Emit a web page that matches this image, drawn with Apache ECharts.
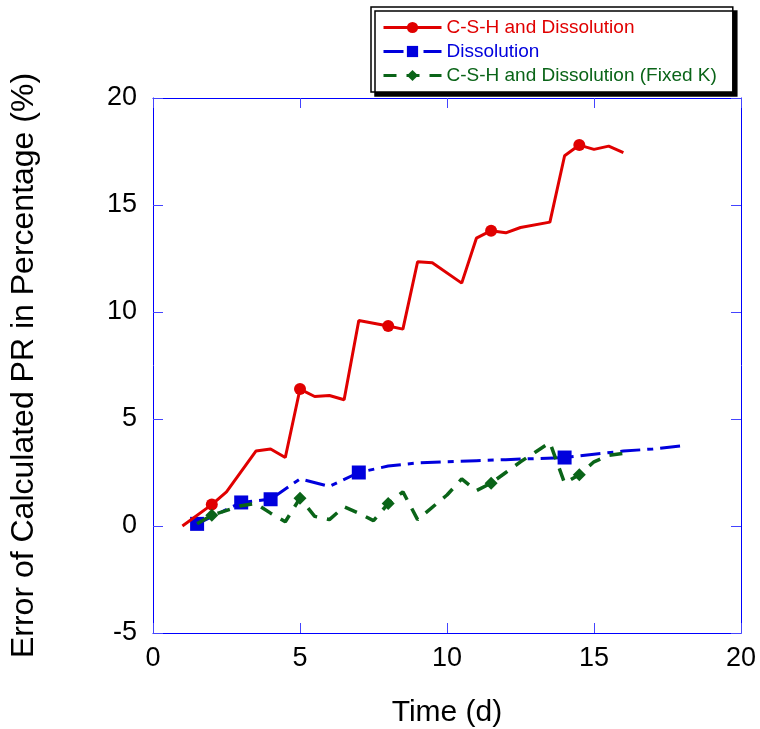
<!DOCTYPE html>
<html><head><meta charset="utf-8">
<script src="https://cdn.jsdelivr.net/npm/echarts@6/dist/echarts.min.js"></script>
<style>html,body{margin:0;padding:0;background:#fff}#c{width:760px;height:729px}</style>
</head><body><div id="c"></div>
<script>
const xTicks = [0, 5, 10, 15, 20];
const yTicks = [-5, 0, 5, 10, 15, 20];
const seriesNames = ['C-S-H and Dissolution', 'Dissolution', 'C-S-H and Dissolution (Fixed K)'];
const redX = [1, 2, 2.5, 3.5, 4, 4.5, 5, 5.5, 6, 6.5, 7, 8, 8.5, 9, 9.5, 10.5, 11, 11.5, 12, 12.5, 13.5, 14, 14.5, 15, 15.5, 16];
const redY = [0, 1.0, 1.6, 3.5, 3.6, 3.2, 6.4, 6.05, 6.1, 5.9, 9.6, 9.35, 9.2, 12.35, 12.3, 11.35, 13.45, 13.8, 13.7, 13.95, 14.2, 17.3, 17.8, 17.6, 17.75, 17.45];
const redMarks = [2, 5, 8, 11.5, 14.5];
const blueX = [1.5, 3, 4, 5, 6, 7, 8, 9, 10, 11, 12, 13, 14, 15, 16, 17, 18];
const blueY = [0.1, 1.1, 1.25, 2.2, 1.85, 2.5, 2.8, 2.95, 3.0, 3.05, 3.1, 3.15, 3.2, 3.35, 3.5, 3.6, 3.75];
const blueMarks = [1.5, 3, 4, 7, 14];
const greenX = [1.5, 2, 3, 3.5, 4, 4.5, 5, 5.5, 6, 6.5, 7, 7.5, 8, 8.5, 9, 10, 10.5, 11, 11.5, 12, 12.5, 13, 13.5, 14, 14.5, 15, 15.5, 16];
const greenY = [0.1, 0.5, 0.95, 1.05, 0.6, 0.2, 1.3, 0.45, 0.3, 0.9, 0.6, 0.25, 1.05, 1.6, 0.3, 1.45, 2.2, 1.65, 2.0, 2.5, 3.0, 3.45, 3.9, 2.0, 2.4, 3.0, 3.3, 3.4];
const greenMarks = [2, 5, 8, 11.5, 14.5];

function build(xs, ys, marks) {
  return xs.map((x, i) => marks.includes(x) ? [x, ys[i]] : {value: [x, ys[i]], symbol: 'none'});
}
const FONT = 'Liberation Sans, Arial, sans-serif';
const red = '#e00000', blue = '#0000dd', green = '#0a6418';
const chart = echarts.init(document.getElementById('c'), null, {renderer: 'canvas'});
function axisCommon() {
  return {
    axisLine: {show: true, onZero: false, lineStyle: {color: '#0000ff', width: 1}},
    axisTick: {show: true, inside: true, length: 10, lineStyle: {color: '#4444ff'}},
    splitLine: {show: false}
  };
}
chart.setOption({
  animation: false,
  grid: {left: 153, right: 19, top: 98, bottom: 96, containLabel: false, outerBoundsMode: 'none'},
  legend: {
    left: 371, top: 7, orient: 'vertical', itemWidth: 58, itemHeight: 14, itemGap: 5,
    padding: [11, 16, 7, 11],
    backgroundColor: '#fff', borderColor: '#000', borderWidth: 1.5, borderRadius: 0,
    shadowColor: '#000', shadowBlur: 0, shadowOffsetX: 4, shadowOffsetY: 4,
    lineStyle: {width: 3},
    textStyle: {fontFamily: FONT, fontSize: 19},
    data: [
      {name: seriesNames[0], textStyle: {color: red}},
      {name: seriesNames[1], textStyle: {color: blue}},
      {name: seriesNames[2], textStyle: {color: green}}
    ]
  },
  xAxis: [
    Object.assign({type: 'value', min: xTicks[0], max: xTicks[xTicks.length - 1], interval: 5,
      name: 'Time (d)', nameLocation: 'middle', nameGap: 65,
      nameTextStyle: {fontFamily: FONT, fontSize: 30, color: '#000'},
      axisLabel: {fontFamily: FONT, fontSize: 27, color: '#000', margin: 12}}, axisCommon()),
    Object.assign({type: 'value', position: 'top', min: 0, max: 20, interval: 5,
      axisLabel: {show: false}}, axisCommon())
  ],
  yAxis: [
    Object.assign({type: 'value', min: yTicks[0], max: yTicks[yTicks.length - 1], interval: 5,
      name: 'Error of Calculated PR in Percentage (%)', nameLocation: 'middle', nameGap: 113,
      nameTextStyle: {fontFamily: FONT, fontSize: 32, color: '#000'},
      axisLabel: {fontFamily: FONT, fontSize: 27, color: '#000', margin: 16}}, axisCommon()),
    Object.assign({type: 'value', position: 'right', min: -5, max: 20, interval: 5,
      axisLabel: {show: false}}, axisCommon())
  ],
  series: [
    {name: seriesNames[0], type: 'line', data: build(redX, redY, redMarks), symbol: 'circle', symbolSize: 12,
      showAllSymbol: true, color: red, lineStyle: {color: red, width: 3}, itemStyle: {color: red}, z: 3},
    {name: seriesNames[1], type: 'line', data: build(blueX, blueY, blueMarks), symbol: 'rect', symbolSize: 14,
      showAllSymbol: true, color: blue, lineStyle: {color: blue, width: 3, type: [20, 7, 6, 7]}, itemStyle: {color: blue}, z: 2},
    {name: seriesNames[2], type: 'line', data: build(greenX, greenY, greenMarks), symbol: 'diamond', symbolSize: 13,
      showAllSymbol: true, color: green, lineStyle: {color: green, width: 3.5, type: [13, 10]}, itemStyle: {color: green}, z: 4}
  ]
});
</script></body></html>
